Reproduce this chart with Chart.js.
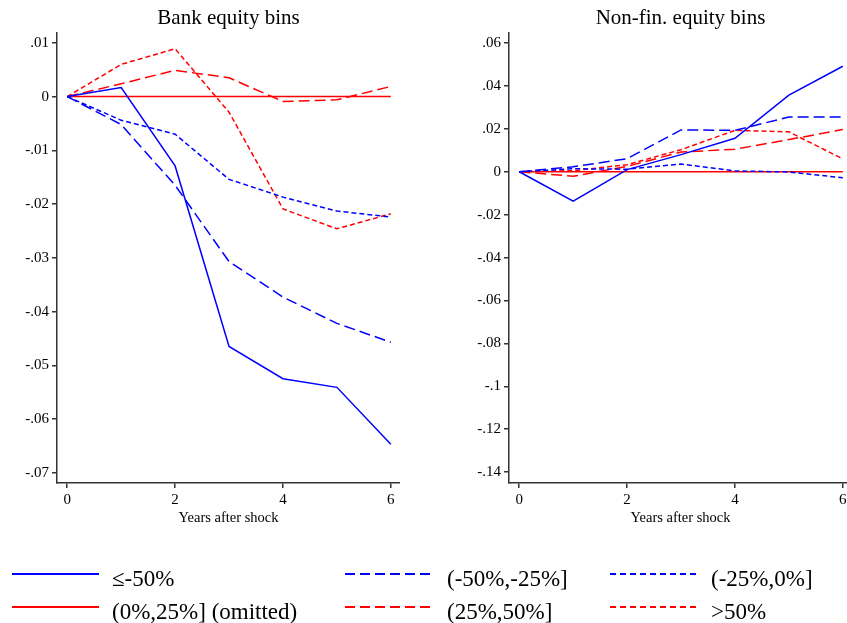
<!DOCTYPE html>
<html>
<head>
<meta charset="utf-8">
<script src="https://cdn.jsdelivr.net/npm/chart.js@4"></script>
<style>
  html, body { margin: 0; padding: 0; background: #fff; overflow: hidden; width: 847px; height: 623px; }
  canvas { position: absolute; top: 0; }
  #bank { left: 0; }
  #nonfin { left: 452px; }
  #legendLines { position: absolute; left: 0; top: 0; }
  .lt {
    position: absolute;
    font-family: "Liberation Serif", "Times New Roman", serif;
    font-size: 23px;
    line-height: 23px;
    white-space: nowrap;
    color: #000;
  }
</style>
</head>
<body>
<canvas id="bank" width="400" height="527"></canvas>
<canvas id="nonfin" width="400" height="527"></canvas>

<svg id="legendLines" width="847" height="623"></svg>
<div class="lt" style="left:112px; top:567px;">≤-50%</div>
<div class="lt" style="left:447px; top:567px;">(-50%,-25%]</div>
<div class="lt" style="left:711px; top:567px;">(-25%,0%]</div>
<div class="lt" style="left:112px; top:600px;">(0%,25%] (omitted)</div>
<div class="lt" style="left:447px; top:600px;">(25%,50%]</div>
<div class="lt" style="left:711px; top:600px;">&gt;50%</div>

<script>
// years after shock
const years = [0, 1, 2, 3, 4, 5, 6];
const xTicks = [0, 2, 4, 6];

// bank equity bins
const bankLe50 = [0, 0.0017, -0.0129, -0.0465, -0.0525, -0.0541, -0.0647];
const bankM50M25 = [0, -0.0052, -0.0165, -0.0307, -0.0373, -0.0422, -0.0457];
const bankM25to0 = [0, -0.0044, -0.0070, -0.0154, -0.0187, -0.0213, -0.0224];
const bank0to25 = [0, 0, 0, 0, 0, 0, 0];
const bank25to50 = [0, 0.0024, 0.0049, 0.0035, -0.0009, -0.0006, 0.0019];
const bankGt50 = [0, 0.0060, 0.0089, -0.0029, -0.0209, -0.0246, -0.0218];
const bankYTicks = [0.01, 0, -0.01, -0.02, -0.03, -0.04, -0.05, -0.06, -0.07];

// non-financial equity bins
const nfLe50 = [0, -0.0137, 0.0010, 0.0080, 0.0156, 0.0357, 0.0492];
const nfM50M25 = [0, 0.0023, 0.0061, 0.0195, 0.0193, 0.0255, 0.0255];
const nfM25to0 = [0, 0.0014, 0.0012, 0.0036, 0.0004, -0.0001, -0.0028];
const nf0to25 = [0, 0, 0, 0, 0, 0, 0];
const nf25to50 = [0, -0.0021, 0.0025, 0.0092, 0.0105, 0.0150, 0.0197];
const nfGt50 = [0, 0.0005, 0.0033, 0.0103, 0.0193, 0.0186, 0.0060];
const nfYTicks = [0.06, 0.04, 0.02, 0, -0.02, -0.04, -0.06, -0.08, -0.1, -0.12, -0.14];

const labels = ["≤-50%", "(-50%,-25%]", "(-25%,0%]", "(0%,25%] (omitted)", "(25%,50%]", ">50%"];

const BLUE = "#0000ff";
const RED = "#ff0000";
const DASH = [11, 5];
const DOT = [5, 3];
const AXIS = "#333";
const SERIF = "'Liberation Serif', 'Times New Roman', serif";

const styles = [
  { color: BLUE, dash: [] },
  { color: BLUE, dash: DASH },
  { color: BLUE, dash: DOT },
  { color: RED, dash: [] },
  { color: RED, dash: DASH },
  { color: RED, dash: DOT },
];

// Stata style: drop leading zero
const fmt = (v) => {
  const s = String(Number(v.toFixed(2)));
  return s.replace(/^(-?)0\./, "$1.");
};

function makePanel(id, title, series, yTicks, yMin, yMax) {
  const ctx = document.getElementById(id).getContext("2d");
  return new Chart(ctx, {
    type: "line",
    data: {
      datasets: series.map((vals, i) => ({
        label: labels[i],
        data: years.map((y, j) => ({ x: y, y: vals[j] })),
        borderColor: styles[i].color,
        borderDash: styles[i].dash,
        borderWidth: 1.5,
        pointRadius: 0,
        tension: 0,
        fill: false,
      })),
    },
    options: {
      responsive: false,
      animation: false,
      layout: { padding: 0 },
      plugins: {
        legend: { display: false },
        tooltip: { enabled: false },
        title: {
          display: true,
          text: title,
          fullSize: false,
          color: "#000",
          font: { family: SERIF, size: 21, weight: "normal", lineHeight: 1.2 },
          padding: { top: 6, bottom: 2 },
        },
      },
      scales: {
        x: {
          type: "linear",
          min: -0.19,
          max: 6.17,
          afterBuildTicks: (s) => { s.ticks = xTicks.map((v) => ({ value: v })); },
          afterFit: (s) => { s.height = 44; },
          grid: { display: true, drawOnChartArea: false, drawTicks: true, tickLength: 5, color: AXIS, lineWidth: 1.5 },
          border: { display: true, color: AXIS, width: 1.5 },
          ticks: { padding: 3, color: "#000", maxRotation: 0, font: { family: SERIF, size: 15 }, callback: (v) => String(v) },
          title: {
            display: true,
            text: "Years after shock",
            color: "#000",
            padding: 0,
            font: { family: SERIF, size: 14.5, lineHeight: 1.2 },
          },
        },
        y: {
          type: "linear",
          min: yMin,
          max: yMax,
          afterBuildTicks: (s) => { s.ticks = yTicks.map((v) => ({ value: v })); },
          afterFit: (s) => { s.width = 57; },
          grid: { display: true, drawOnChartArea: false, drawTicks: true, tickLength: 5, color: AXIS, lineWidth: 1.5 },
          border: { display: true, color: AXIS, width: 1.5 },
          ticks: { padding: 3, color: "#000", font: { family: SERIF, size: 15 }, callback: (v) => fmt(v) },
        },
      },
    },
  });
}

makePanel("bank", "Bank equity bins",
  [bankLe50, bankM50M25, bankM25to0, bank0to25, bank25to50, bankGt50],
  bankYTicks, -0.0719, 0.0118);

makePanel("nonfin", "Non-fin. equity bins",
  [nfLe50, nfM50M25, nfM25to0, nf0to25, nf25to50, nfGt50],
  nfYTicks, -0.1451, 0.0646);

// legend keys
const svg = document.getElementById("legendLines");
const keyCols = [[12, 99], [345, 430], [610, 697]];
const keyRows = [574, 607];
const legendDash = ["", "10 5", "6 4"];
styles.forEach((st, i) => {
  const row = Math.floor(i / 3);
  const col = i % 3;
  const ln = document.createElementNS("http://www.w3.org/2000/svg", "line");
  ln.setAttribute("x1", keyCols[col][0]);
  ln.setAttribute("x2", keyCols[col][1]);
  ln.setAttribute("y1", keyRows[row]);
  ln.setAttribute("y2", keyRows[row]);
  ln.setAttribute("stroke", st.color);
  ln.setAttribute("stroke-width", 2);
  if (legendDash[col]) ln.setAttribute("stroke-dasharray", legendDash[col]);
  svg.appendChild(ln);
});
</script>
</body>
</html>
